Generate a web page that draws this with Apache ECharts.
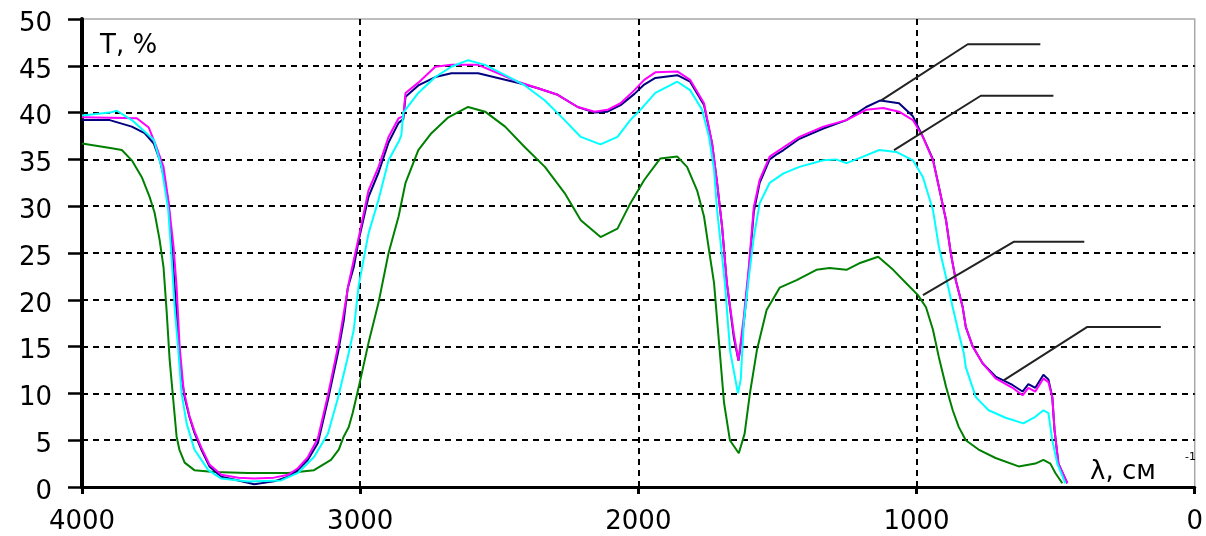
<!DOCTYPE html>
<html>
<head>
<meta charset="utf-8">
<script src="https://cdn.jsdelivr.net/npm/echarts@6/dist/echarts.min.js"></script>
<style>
html,body{margin:0;padding:0;background:#fff;}
#c{width:1206px;height:536px;}
</style>
</head>
<body>
<div id="c"></div>
<script>
// Wavenumber (cm^-1) vs transmittance T, %
const xTicks = [4000, 3000, 2000, 1000, 0];
const yTicks = [0, 5, 10, 15, 20, 25, 30, 35, 40, 45, 50];

const navy = [[4000,39.2],[3900,39.2],[3821,38.5],[3775,37.8],[3742,36.7],[3720,34.9],[3703,32.8],[3689,30.3],[3675,25.0],[3667,21.4],[3653,15.7],[3642,11.8],[3631,9.6],[3614,7.5],[3596,5.8],[3571,4.0],[3542,2.2],[3499,1.1],[3438,0.7],[3381,0.3],[3310,0.6],[3259,1.1],[3224,1.8],[3188,2.9],[3152,4.7],[3116,9.3],[3080,14.3],[3059,17.8],[3045,21.2],[3023,23.5],[3005,26.4],[2970,31.0],[2934,33.6],[2898,36.8],[2862,38.9],[2845,39.3],[2837,41.7],[2791,42.9],[2730,43.8],[2672,44.2],[2576,44.2],[2479,43.5],[2408,43.0],[2361,42.6],[2290,41.9],[2218,40.6],[2157,40.0],[2111,40.1],[2064,40.8],[2014,42.0],[1979,43.0],[1939,43.7],[1860,44.0],[1814,43.3],[1764,40.8],[1735,36.7],[1717,32.5],[1699,27.8],[1682,21.8],[1657,16.0],[1640,13.5],[1621,17.5],[1603,23.0],[1585,29.4],[1564,32.5],[1528,35.0],[1500,35.6],[1478,36.0],[1421,37.2],[1335,38.3],[1252,39.2],[1181,40.6],[1130,41.3],[1063,41.0],[1013,39.6],[977,37.4],[941,35.0],[920,32.1],[894,28.5],[877,25.0],[859,22.1],[834,19.2],[823,17.1],[798,15.0],[762,13.2],[716,11.8],[655,10.9],[619,10.2],[598,11.0],[573,10.6],[544,12.0],[526,11.5],[512,9.6],[504,6.1],[490,2.5],[458,0.4]];

const magenta = [[4000,39.5],[3803,39.4],[3760,38.4],[3732,36.3],[3707,34.2],[3690,30.7],[3671,25.7],[3660,21.4],[3649,15.0],[3635,10.4],[3614,7.6],[3596,6.0],[3571,4.2],[3542,2.4],[3499,1.3],[3438,1.0],[3381,0.9],[3310,1.0],[3259,1.3],[3224,2.0],[3188,3.2],[3152,5.2],[3116,9.8],[3077,15.4],[3041,21.8],[3005,26.7],[2970,31.7],[2934,34.2],[2898,37.4],[2862,39.4],[2845,39.6],[2837,42.1],[2791,43.2],[2730,44.9],[2672,45.1],[2576,45.1],[2504,44.2],[2433,43.3],[2361,42.6],[2290,41.9],[2218,40.6],[2157,40.1],[2111,40.3],[2064,41.0],[2014,42.4],[1979,43.5],[1939,44.3],[1860,44.4],[1814,43.5],[1764,41.0],[1735,36.7],[1717,32.5],[1699,27.8],[1682,21.8],[1657,16.4],[1640,13.5],[1621,18.2],[1603,23.5],[1585,29.9],[1564,32.8],[1528,35.3],[1478,36.3],[1421,37.4],[1335,38.5],[1252,39.2],[1181,40.3],[1120,40.5],[1063,40.1],[1013,39.2],[977,37.4],[941,34.9],[920,32.1],[894,28.5],[877,25.0],[859,22.1],[834,19.2],[823,17.1],[798,15.0],[762,13.2],[716,11.6],[655,10.6],[619,9.8],[598,10.6],[573,10.2],[544,11.6],[526,11.2],[512,9.6],[504,6.1],[490,2.5],[458,0.4]];

const cyan = [[4000,39.7],[3900,40.0],[3875,40.2],[3821,39.2],[3742,37.1],[3714,34.2],[3690,29.6],[3678,24.6],[3667,19.2],[3653,14.3],[3642,10.0],[3624,6.8],[3596,4.0],[3546,1.8],[3499,0.9],[3403,0.6],[3284,0.7],[3224,1.5],[3166,3.2],[3116,5.7],[3080,9.5],[3045,13.8],[3023,16.8],[3005,21.6],[2970,27.1],[2934,30.7],[2898,34.9],[2860,37.0],[2852,37.6],[2845,40.0],[2791,42.1],[2730,43.8],[2672,44.9],[2612,45.6],[2551,45.1],[2479,44.0],[2408,42.9],[2336,41.3],[2265,39.2],[2207,37.4],[2136,36.6],[2075,37.4],[2029,39.2],[1993,40.3],[1939,42.1],[1860,43.3],[1814,42.4],[1771,40.3],[1746,37.4],[1728,33.9],[1717,29.6],[1699,24.6],[1689,21.8],[1670,14.5],[1642,10.0],[1632,11.5],[1621,17.5],[1603,22.4],[1585,26.7],[1564,30.3],[1528,32.5],[1478,33.5],[1421,34.2],[1335,34.9],[1290,35.0],[1252,34.6],[1192,35.3],[1134,36.0],[1073,35.8],[1013,34.9],[977,33.1],[941,29.6],[920,25.7],[894,22.4],[870,19.2],[848,16.4],[830,14.3],[823,12.8],[787,9.6],[741,8.2],[680,7.4],[616,6.8],[573,7.5],[544,8.2],[526,7.9],[512,5.0],[494,2.5],[465,0.4]];

const green = [[4000,36.7],[3893,36.2],[3857,36.0],[3821,34.9],[3785,33.1],[3757,31.0],[3739,29.3],[3721,26.4],[3707,23.5],[3696,18.9],[3685,13.6],[3671,9.0],[3660,5.4],[3650,4.0],[3631,2.6],[3596,1.8],[3525,1.6],[3403,1.5],[3259,1.5],[3166,1.8],[3105,2.9],[3077,4.0],[3059,5.4],[3041,6.4],[3027,7.9],[3005,10.7],[2970,15.4],[2934,19.7],[2898,25.0],[2862,28.9],[2837,32.5],[2791,36.0],[2744,37.8],[2683,39.5],[2612,40.6],[2551,40.1],[2479,38.5],[2408,36.3],[2336,34.2],[2265,31.4],[2207,28.5],[2136,26.7],[2075,27.6],[2029,30.3],[1979,32.8],[1921,35.1],[1860,35.3],[1825,34.2],[1789,31.7],[1764,28.9],[1746,25.3],[1728,21.8],[1710,15.4],[1692,9.0],[1671,5.0],[1639,3.6],[1618,5.7],[1599,10.0],[1574,14.6],[1539,18.9],[1492,21.3],[1431,22.1],[1360,23.2],[1313,23.4],[1252,23.2],[1206,23.9],[1138,24.6],[1084,23.2],[1038,21.8],[995,20.5],[966,19.2],[941,16.8],[920,13.9],[894,10.7],[870,8.2],[848,6.4],[823,5.0],[777,4.0],[716,3.1],[633,2.2],[573,2.5],[544,2.9],[519,2.5],[501,1.5],[476,0.4]];

// leader (callout) lines, in data units
const leaders = [
  [[1127,41.3],[816,47.3],[555,47.3]],
  [[1081,36.0],[769,41.8],[508,41.8]],
  [[977,20.5],[651,26.2],[397,26.2]],
  [[687,11.4],[386,17.1],[122,17.1]]
];

const FONT = 'DejaVu Sans';
const FS = 26;
const chart = echarts.init(document.getElementById('c'), null, {renderer:'canvas'});

function curve(name, data, color){
  return {name, type:'line', data, showSymbol:false, symbol:'none', smooth:false,
    lineStyle:{color, width:2}, itemStyle:{color}, silent:true, z:3, clip:true};
}

const series = [
  curve('green', green, '#008000'),
  curve('navy', navy, '#000080'),
  curve('magenta', magenta, '#ff00ff'),
  curve('cyan', cyan, '#00ffff')
];
leaders.forEach((l,i)=>{
  series.push({name:'leader'+i, type:'line', data:l, showSymbol:false, symbol:'none',
    lineStyle:{color:'#222', width:2}, silent:true, z:5});
});

chart.setOption({
  animation:false,
  backgroundColor:'#fff',
  grid:{left:82, right:6, top:19, bottom:49, show:true, borderColor:'#a8a8a8', borderWidth:1.5, backgroundColor:'transparent'},
  xAxis:{type:'value', position:'bottom', min:xTicks[xTicks.length-1], max:xTicks[0], interval:1000, inverse:true,
    axisLine:{show:true, onZero:false, lineStyle:{color:'#000', width:3}},
    axisTick:{show:true, inside:false, length:7, lineStyle:{color:'#000', width:3}},
    axisLabel:{color:'#000', fontFamily:FONT, fontSize:FS, margin:22, formatter: v => String(v)},
    splitLine:{show:true, showMinLine:false, showMaxLine:false, lineStyle:{color:'#000', width:2, type:[6,5]}}
  },
  yAxis:{type:'value', position:'left', min:yTicks[0], max:yTicks[yTicks.length-1], interval:5,
    axisLine:{show:true, onZero:false, lineStyle:{color:'#000', width:4}},
    axisTick:{show:true, inside:false, length:14, lineStyle:{color:'#000', width:2.5}},
    axisLabel:{color:'#000', fontFamily:FONT, fontSize:FS, margin:30,
      formatter: v => '{a|' + v + '}',
      rich:{a:{color:'#000', fontFamily:FONT, fontSize:FS, padding:[10,0,0,0]}}},
    splitLine:{show:true, showMinLine:false, showMaxLine:false, lineStyle:{color:'#000', width:2, type:[6,5]}}
  },
  graphic:[
    {type:'text', left:100, top:33, silent:true,
      style:{text:'T, %', fill:'#000', font:FS+'px "DejaVu Sans"'}},
    {type:'text', left:1090, top:459, silent:true, z:1,
      style:{text:'λ, см', fill:'#000', font:FS+'px "DejaVu Sans"'}},
    {type:'text', left:1185, top:452, silent:true,
      style:{text:'-1', fill:'#000', font:'11px "DejaVu Sans"'}}
  ],
  series
});
</script>
</body>
</html>
